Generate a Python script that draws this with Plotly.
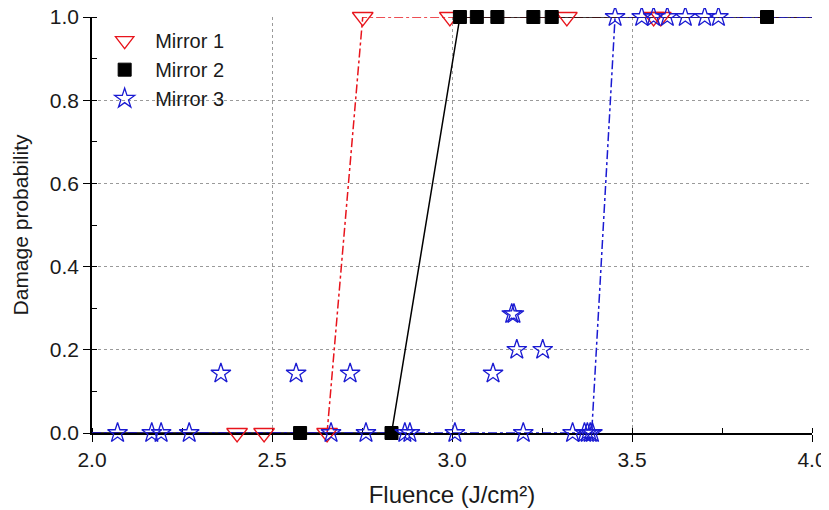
import plotly.graph_objects as go

# ---------------- data ----------------
# Mirror 1 (open down-triangles)
m1_x = [2.403, 2.478, 2.653, 2.752, 2.994, 3.319, 3.560, 3.580]
m1_y = [0, 0, 0, 1, 1, 1, 1, 1]
# Mirror 2 (filled squares)
m2_x = [2.578, 2.832, 3.022, 3.069, 3.126, 3.226, 3.277, 3.875]
m2_y = [0, 0, 1, 1, 1, 1, 1, 1]
# Mirror 3 (open stars)
m3_x = [2.071, 2.166, 2.192, 2.270, 2.664, 2.761, 2.869, 2.883, 3.008, 3.198,
        3.335, 3.368, 3.376, 3.384, 3.390,
        2.358, 2.567, 2.717, 3.114,
        3.180, 3.252,
        3.166, 3.172,
        3.453, 3.527, 3.560, 3.598, 3.648, 3.702, 3.740]
m3_y = [0, 0, 0, 0, 0, 0, 0, 0, 0, 0,
        0, 0, 0, 0, 0,
        0.143, 0.143, 0.143, 0.143,
        0.2, 0.2,
        0.286, 0.286,
        1, 1, 1, 1, 1, 1, 1]

# step fits (threshold start / end of rise)
fit1_x = [2.0, 2.653, 2.752, 4.0]
fit2_x = [2.0, 2.832, 3.022, 4.0]
fit3_x = [2.0, 3.388, 3.453, 4.0]
fit_y = [0, 0, 1, 1]

x_ticks = [2.0, 2.5, 3.0, 3.5, 4.0]
y_ticks = [0.0, 0.2, 0.4, 0.6, 0.8, 1.0]

RED = "#e8141c"
BLUE = "#1a1ad2"
FONT = "Liberation Sans, Arial, Helvetica, sans-serif"
TXT = "#1a1a1a"

fig = go.Figure()

fig.add_trace(go.Scatter(x=fit1_x, y=fit_y, mode="lines", showlegend=False,
                         line=dict(color=RED, width=1.5, dash="dashdot"),
                         cliponaxis=False, hoverinfo="skip"))
fig.add_trace(go.Scatter(x=fit2_x, y=fit_y, mode="lines", showlegend=False,
                         line=dict(color="black", width=1.5),
                         cliponaxis=False, hoverinfo="skip"))
fig.add_trace(go.Scatter(x=fit3_x, y=fit_y, mode="lines", showlegend=False,
                         line=dict(color=BLUE, width=1.5, dash="dashdot"),
                         cliponaxis=False, hoverinfo="skip"))

fig.add_trace(go.Scatter(x=m1_x, y=m1_y, mode="markers", name="Mirror 1",
                         marker=dict(symbol="triangle-down-open", size=18,
                                     color=RED, line=dict(width=1.3, color=RED)),
                         cliponaxis=False))
fig.add_trace(go.Scatter(x=m2_x, y=m2_y, mode="markers", name="Mirror 2",
                         marker=dict(symbol="square", size=13, color="black",
                                     line=dict(width=1, color="black")),
                         cliponaxis=False))
fig.add_trace(go.Scatter(x=m3_x, y=m3_y, mode="markers", name="Mirror 3",
                         marker=dict(symbol="star-open", size=15, color=BLUE,
                                     line=dict(width=1.3, color=BLUE)),
                         cliponaxis=False))

axis_common = dict(
    showline=True, linecolor="black", linewidth=1.5,
    showgrid=True, gridcolor="#9a9a9a", griddash="dot", gridwidth=1,
    zeroline=False, layer="below traces", automargin=False,
    ticklabeloverflow="allow",
    tickfont=dict(family=FONT, size=21, color=TXT),
    ticks="outside", ticklen=7, tickwidth=1.3, tickcolor="black",
)

# page has an 8px body margin, so the figure is sized to fit the window
fig.update_layout(
    template="none",
    width=821, height=502,
    margin=dict(l=84, r=17, t=9, b=77, autoexpand=False),
    paper_bgcolor="white", plot_bgcolor="white",
    font=dict(family=FONT, size=21, color=TXT),
    showlegend=True,
    legend=dict(x=0.003, y=0.99, xanchor="left", yanchor="top",
                bgcolor="rgba(255,255,255,0)", borderwidth=0,
                font=dict(family=FONT, size=20, color=TXT),
                tracegroupgap=0, itemwidth=51),
    shapes=[dict(type="rect", xref="paper", yref="paper",
                 x0=0.004, x1=0.205, y0=0.76, y1=0.985,
                 fillcolor="white", line=dict(width=0), layer="between")],
    xaxis=dict(range=[2.0, 4.0], tickvals=x_ticks,
               ticktext=[f"{v:.1f}" for v in x_ticks],
               minor=dict(ticks="inside", ticklen=5, dtick=0.25, tick0=2.0,
                          tickcolor="black", showgrid=False),
               title=dict(text="Fluence (J/cm²)", standoff=16,
                          font=dict(family=FONT, size=24, color=TXT)),
               **axis_common),
    yaxis=dict(range=[0.0, 1.0], tickvals=y_ticks,
               ticktext=[f"{v:.1f}" for v in y_ticks],
               minor=dict(ticks="inside", ticklen=5, dtick=0.1, tick0=0.0,
                          tickcolor="black", showgrid=False),
               title=dict(text="Damage probability", standoff=15,
                          font=dict(family=FONT, size=21, color=TXT)),
               **axis_common),
    xaxis2=dict(range=[2.0, 4.0], overlaying="x", side="top", anchor="y",
                showline=True, linecolor="black", linewidth=1.5,
                showgrid=False, zeroline=False, showticklabels=False,
                automargin=False,
                tickvals=x_ticks, ticks="inside", ticklen=7, tickcolor="black",
                minor=dict(ticks="inside", ticklen=5, dtick=0.25, tick0=2.0,
                           tickcolor="black"),
                layer="below traces"),
    yaxis2=dict(range=[0.0, 1.0], overlaying="y", side="right", anchor="x",
                showline=True, linecolor="black", linewidth=1.5,
                showgrid=False, zeroline=False, showticklabels=False,
                automargin=False,
                tickvals=y_ticks, ticks="inside", ticklen=7, tickcolor="black",
                minor=dict(ticks="inside", ticklen=5, dtick=0.1, tick0=0.0,
                           tickcolor="black"),
                layer="below traces"),
)

fig.write_html("out.html")
